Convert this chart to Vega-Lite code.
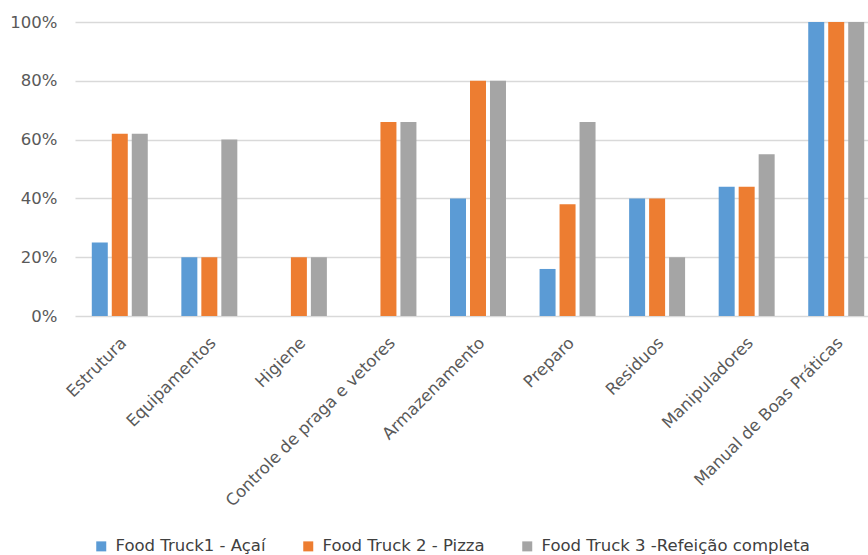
{
  "$schema": "https://vega.github.io/schema/vega-lite/v6.json",
  "autosize": {"type": "none"},
  "padding": {"left": 75, "top": 22, "right": 0, "bottom": 239},
  "width": 806,
  "height": 294,
  "background": "white",
  "config": {
    "view": {"stroke": null},
    "font": "DejaVu Sans",
    "axis": {"labelFont": "DejaVu Sans", "labelColor": "#595959", "labelFontSize": 16.5}
  },
  "data": {
    "values": [
      {"categoria": "Estrutura", "serie": "Food Truck1 - Açaí", "valor": 0.25},
      {"categoria": "Estrutura", "serie": "Food Truck 2 - Pizza", "valor": 0.62},
      {"categoria": "Estrutura", "serie": "Food Truck 3 -Refeição completa", "valor": 0.62},
      {"categoria": "Equipamentos", "serie": "Food Truck1 - Açaí", "valor": 0.20},
      {"categoria": "Equipamentos", "serie": "Food Truck 2 - Pizza", "valor": 0.20},
      {"categoria": "Equipamentos", "serie": "Food Truck 3 -Refeição completa", "valor": 0.60},
      {"categoria": "Higiene", "serie": "Food Truck1 - Açaí", "valor": 0},
      {"categoria": "Higiene", "serie": "Food Truck 2 - Pizza", "valor": 0.20},
      {"categoria": "Higiene", "serie": "Food Truck 3 -Refeição completa", "valor": 0.20},
      {"categoria": "Controle de praga e vetores", "serie": "Food Truck1 - Açaí", "valor": 0},
      {"categoria": "Controle de praga e vetores", "serie": "Food Truck 2 - Pizza", "valor": 0.66},
      {"categoria": "Controle de praga e vetores", "serie": "Food Truck 3 -Refeição completa", "valor": 0.66},
      {"categoria": "Armazenamento", "serie": "Food Truck1 - Açaí", "valor": 0.40},
      {"categoria": "Armazenamento", "serie": "Food Truck 2 - Pizza", "valor": 0.80},
      {"categoria": "Armazenamento", "serie": "Food Truck 3 -Refeição completa", "valor": 0.80},
      {"categoria": "Preparo", "serie": "Food Truck1 - Açaí", "valor": 0.16},
      {"categoria": "Preparo", "serie": "Food Truck 2 - Pizza", "valor": 0.38},
      {"categoria": "Preparo", "serie": "Food Truck 3 -Refeição completa", "valor": 0.66},
      {"categoria": "Residuos", "serie": "Food Truck1 - Açaí", "valor": 0.40},
      {"categoria": "Residuos", "serie": "Food Truck 2 - Pizza", "valor": 0.40},
      {"categoria": "Residuos", "serie": "Food Truck 3 -Refeição completa", "valor": 0.20},
      {"categoria": "Manipuladores", "serie": "Food Truck1 - Açaí", "valor": 0.44},
      {"categoria": "Manipuladores", "serie": "Food Truck 2 - Pizza", "valor": 0.44},
      {"categoria": "Manipuladores", "serie": "Food Truck 3 -Refeição completa", "valor": 0.55},
      {"categoria": "Manual de Boas Práticas", "serie": "Food Truck1 - Açaí", "valor": 1.0},
      {"categoria": "Manual de Boas Práticas", "serie": "Food Truck 2 - Pizza", "valor": 1.0},
      {"categoria": "Manual de Boas Práticas", "serie": "Food Truck 3 -Refeição completa", "valor": 1.0}
    ]
  },
  "mark": {"type": "bar"},
  "encoding": {
    "x": {
      "field": "categoria",
      "type": "nominal",
      "sort": null,
      "title": null,
      "scale": {"paddingInner": 0.375, "paddingOuter": 0.1875},
      "axis": {
        "labelAngle": -45,
        "labelAlign": "right",
        "labelBaseline": "middle",
        "labelPadding": 24,
        "labelOffset": 4,
        "labelLimit": 300,
        "ticks": false,
        "domain": false
      }
    },
    "xOffset": {
      "field": "serie",
      "sort": null,
      "scale": {"paddingInner": 0.2, "paddingOuter": 0}
    },
    "y": {
      "field": "valor",
      "type": "quantitative",
      "title": null,
      "scale": {"domain": [0, 1], "nice": false},
      "axis": {
        "values": [0, 0.2, 0.4, 0.6, 0.8, 1.0],
        "format": ".0%",
        "ticks": false,
        "domain": false,
        "labelPadding": 18,
        "gridColor": "#d9d9d9",
        "gridWidth": 1.5
      }
    },
    "color": {
      "field": "serie",
      "type": "nominal",
      "sort": null,
      "scale": {
        "domain": ["Food Truck1 - Açaí", "Food Truck 2 - Pizza", "Food Truck 3 -Refeição completa"],
        "range": ["#5B9BD5", "#ED7D31", "#A5A5A5"]
      },
      "legend": {
        "title": null,
        "orient": "none",
        "direction": "horizontal",
        "legendX": 18,
        "legendY": 516,
        "symbolType": "square",
        "symbolSize": 100,
        "symbolStrokeWidth": 0,
        "labelFont": "DejaVu Sans",
        "labelFontSize": 16.5,
        "labelColor": "#404040",
        "labelOffset": 6,
        "columnPadding": 34,
        "labelLimit": 400
      }
    }
  }
}
